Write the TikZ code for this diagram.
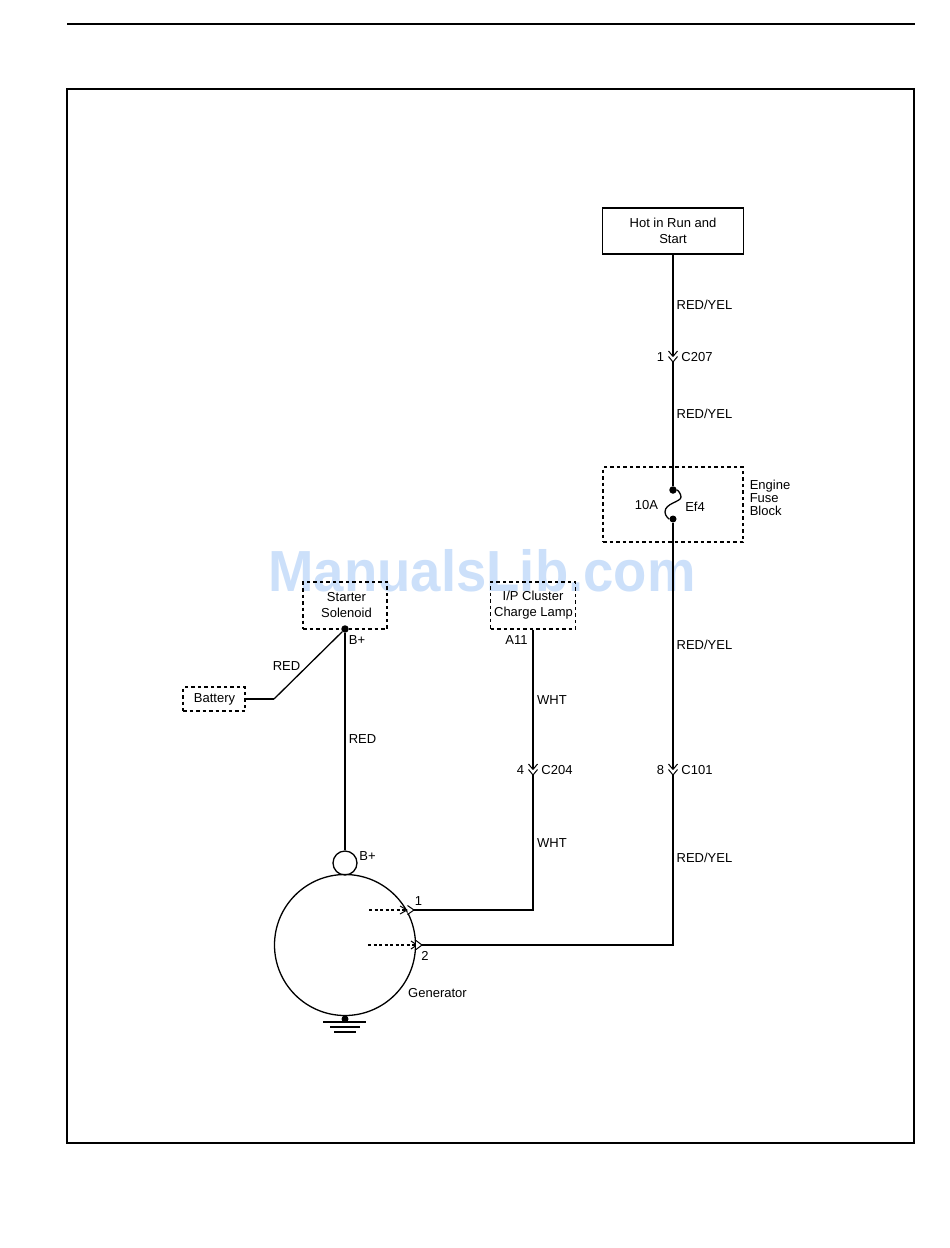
\documentclass[tikz,border=0pt]{standalone}
\usepackage{fontspec}
\setmainfont{Liberation Sans}
\usepackage{tikz}
\definecolor{wmark}{HTML}{CCE0FA}
\tikzset{
	lbl/.style={inner sep=0pt,yshift=-0.4pt,font=\fontsize{13}{16}\selectfont},
	wire/.style={draw=black,line width=1.3pt},
	solidbox/.style={draw=black,line width=1.1pt,inner sep=0pt,align=center,font=\fontsize{13}{16}\selectfont},
	dashbox/.style={solidbox,line width=1.3pt,dash pattern=on 3.5pt off 3pt},
	chev/.style={draw=black,line width=1pt},
	dot/.style={circle,fill=black,inner sep=0pt,minimum size=7.5pt}
}
\begin{document}
\begin{tikzpicture}[x=1pt,y=-1pt]
	\useasboundingbox (0,0) rectangle (950,1248);
	\node[inner sep=0pt,text=wmark,xscale=0.94,font=\fontsize{58}{64}\selectfont\bfseries] (wm) at (482,571) {ManualsLib.com};

	% page frame
	\draw[line width=1.6pt] (67,24) -- (915,24);
	\draw[line width=1.6pt] (67,89) rectangle (914,1143);

	% boxes
	\node[solidbox,minimum width=141pt,minimum height=46pt] (hot) at (673,231) {Hot in Run and\\Start};
	\node[dashbox,minimum width=140pt,minimum height=75pt] (fuseblock) at (673,504.5) {};
	\node[dashbox,minimum width=84pt,minimum height=47pt] (solenoid) at (345,605.5) {\hspace{3pt}Starter\\\hspace{3pt}Solenoid};
	\node[dashbox,minimum width=85pt,minimum height=47pt] (cluster) at (533,605.5) {I/P Cluster\\\hspace{1pt}Charge Lamp};
	\node[dashbox,minimum width=62pt,minimum height=24pt] (battery) at (214,699) {\hspace{1pt}Battery};

	% generator
	\node[circle,draw=black,line width=1.3pt,inner sep=0pt,minimum size=141pt] (gen) at (345,945) {};
	\node[circle,draw=black,line width=1.3pt,inner sep=0pt,minimum size=24pt] (bplus) at (345,863) {};
	\node[dot,minimum size=7pt] (gnd) at (345,1019) {};
	\coordinate (g1l) at (323,1022);
	\coordinate (g1r) at (366,1022);
	\coordinate (g2l) at (330,1027);
	\coordinate (g2r) at (360,1027);
	\coordinate (g3l) at (334,1032);
	\coordinate (g3r) at (356,1032);

	% junctions
	\node[dot] (fusetop) at (673,490) {};
	\node[dot,minimum size=7pt] (fusebot) at (673,519) {};
	\node[dot] (bsol) at (345,629) {};
	\coordinate (bend) at (274,699);
	\coordinate (c207) at (673,357);
	\coordinate (c204) at (533,770);
	\coordinate (c101) at (673,770);
	\coordinate (pin1) at (414,910);
	\coordinate (pin2) at (422,945);
	\coordinate (in1) at (369,910);
	\coordinate (in2) at (368,945);
	\coordinate (tip1) at (407,910);
	\coordinate (tip2) at (417,945);

	% wires
	\begin{scope}[every edge/.style={wire}]
		\path (hot) edge (fusetop);
		\path (fusebot) edge (c101);
		\path (bsol) edge (bplus);
		\path (battery) edge (bend);
		\path (bend) edge (bsol);
		\path (cluster) edge (c204);
		\path (g1l) edge (g1r);
		\path (g2l) edge (g2r);
		\path (g3l) edge (g3r);
	\end{scope}
	\draw[wire] (c204) |- (pin1);
	\draw[wire] (c101) |- (pin2);
	\draw[wire] (fusetop) .. controls (678,490) and (681,494) .. (681,497) .. controls (681,502) and (665,503) .. (665,512) .. controls (665,516) and (669,519) .. (fusebot);
	\draw[wire,line width=1.1pt,dash pattern=on 3pt off 2.5pt] (in1) -- (tip1);
	\draw[wire,line width=1.1pt,dash pattern=on 3pt off 2.5pt] (in2) -- (tip2);

	% connector chevrons
	\foreach \c in {c207,c204,c101}{
		\draw[chev] (\c) ++(-4.5,-6) -- ++(4.5,5.5) -- ++(4.5,-5.5);
		\draw[chev,fill=white] (\c) ++(-4.5,-0.5) -- ++(4.5,5.5) -- ++(4.5,-5.5);
	}
	\draw[chev] (tip1) ++(-7,-4) -- ++(7,4) -- ++(-7,4);
	\draw[chev,fill=white] (pin1) ++(-6.5,-4.5) -- ++(6.5,4.5) -- ++(-6.5,4.5);
	\draw[chev] (tip2) ++(-6,-4) -- ++(6,4) -- ++(-6,4);
	\draw[chev,fill=white] (pin2) ++(-6,-4.5) -- ++(6,4.5) -- ++(-6,4.5);

	% labels
	\begin{scope}[every node/.style={lbl}]
		\node (w1) at (704.5,304) {RED/YEL};
		\node (pc207) at (660.5,357) {1};
		\node (nc207) at (697,357) {C207};
		\node (w2) at (704.5,413) {RED/YEL};
		\node (amps) at (646.5,505) {10A};
		\node (ef) at (695,506) {Ef4};
		\node[align=left,font=\fontsize{13}{13}\selectfont] (engine) at (770,497) {Engine\\Fuse\\Block};
		\node (w3) at (704.5,644) {RED/YEL};
		\node (bsoltxt) at (357,640) {B+};
		\node (a11) at (516.5,640) {A11};
		\node (red1) at (286.5,666) {RED};
		\node (red2) at (362.5,739) {RED};
		\node (w4) at (552,700) {WHT};
		\node (pc204) at (520.5,770) {4};
		\node (nc204) at (557,770) {C204};
		\node (pc101) at (660.5,770) {8};
		\node (nc101) at (697,770) {C101};
		\node (w5) at (552,843) {WHT};
		\node (w6) at (704.5,857) {RED/YEL};
		\node (bgen) at (367.5,856) {B+};
		\node (p1txt) at (418.5,901) {1};
		\node (p2txt) at (425,956) {2};
		\node (gentxt) at (437.5,993) {Generator};
	\end{scope}
\end{tikzpicture}
\end{document}
